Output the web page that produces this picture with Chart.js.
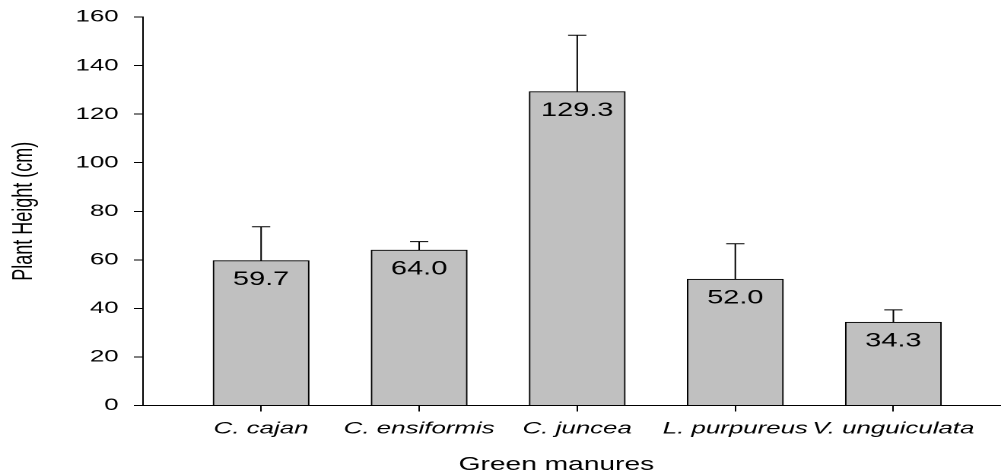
<!DOCTYPE html>
<html>
<head>
<meta charset="utf-8">
<script src="https://cdn.jsdelivr.net/npm/chart.js@4"></script>
<style>
  html, body { margin: 0; padding: 0; background: #fff; overflow: hidden; }
  /* the original figure is stretched sideways, so draw narrow and scale it */
  #wrap { width: 658px; height: 473px; transform: scaleX(1.5213); transform-origin: 0 0; }
  #plantChart { width: 658px; height: 473px; }
</style>
</head>
<body>
<div id="wrap"><canvas id="plantChart" width="658" height="473"></canvas></div>
<script>
// data
const categories = ["C. cajan", "C. ensiformis", "C. juncea", "L. purpureus", "V. unguiculata"];
const heights = [59.7, 64.0, 129.3, 52.0, 34.3];
const errors = [13.9, 3.5, 23.2, 14.6, 5.1];
const yMin = 0;
const yMax = 160;
const yStep = 20;

const fontFamily = "'Liberation Sans', Arial, sans-serif";

// error bars (upper half only) + value labels inside the bars
const barExtras = {
    id: "barExtras",
    afterDatasetsDraw(chart) {
        const ctx = chart.ctx;
        const xScale = chart.scales.x;
        const yScale = chart.scales.y;
        ctx.save();
        ctx.strokeStyle = "#000";
        ctx.lineWidth = 1;
        heights.forEach((h, i) => {
            const x = xScale.getPixelForValue(i);
            const yTop = yScale.getPixelForValue(h);
            const yErr = yScale.getPixelForValue(h + errors[i]);
            ctx.beginPath();
            ctx.moveTo(x, yTop);
            ctx.lineTo(x, yErr);
            ctx.moveTo(x - 6, yErr);
            ctx.lineTo(x + 6, yErr);
            ctx.stroke();

            ctx.fillStyle = "#000";
            ctx.font = "19px " + fontFamily;
            ctx.textAlign = "center";
            ctx.textBaseline = "middle";
            ctx.fillText(h.toFixed(1), x, yTop + 19);
        });
        ctx.restore();
    }
};

const ctx = document.getElementById("plantChart").getContext("2d");
const plantChart = new Chart(ctx, {
    type: "bar",
    data: {
        datasets: [{
            label: "Plant Height",
            data: heights.map((h, i) => ({ x: i, y: h })),
            backgroundColor: "#c0c0c0",
            borderColor: "#000",
            borderWidth: 1,
            borderSkipped: "start",
            barThickness: 63
        }]
    },
    options: {
        responsive: false,
        animation: false,
        devicePixelRatio: 2,
        layout: {
            padding: { left: 0, right: 0, top: 17, bottom: 0 }
        },
        plugins: {
            legend: { display: false },
            tooltip: { enabled: false }
        },
        scales: {
            x: {
                type: "linear",
                offset: false,
                min: -0.747,
                max: 4.681,
                afterBuildTicks: (scale) => {
                    scale.ticks = categories.map((c, i) => ({ value: i }));
                },
                afterFit: (scale) => { scale.height = 67.5; },
                ticks: {
                    stepSize: 1,
                    includeBounds: false,
                    autoSkip: false,
                    maxRotation: 0,
                    color: "#000",
                    padding: 7,
                    font: { family: fontFamily, size: 17, style: "italic" },
                    callback: (v) => categories[v] ?? ""
                },
                grid: {
                    offset: false,
                    drawOnChartArea: false,
                    drawTicks: true,
                    tickLength: 6,
                    color: "#000"
                },
                border: { display: true, color: "#000", width: 1 },
                title: {
                    display: true,
                    text: "Green manures    ",
                    color: "#000",
                    padding: { top: 0, bottom: 0 },
                    font: { family: fontFamily, size: 18.5, lineHeight: 0.85 }
                }
            },
            y: {
                min: yMin,
                max: yMax,
                afterFit: (scale) => { scale.width = 94; },
                ticks: {
                    stepSize: yStep,
                    color: "#000",
                    padding: 10,
                    font: { family: fontFamily, size: 17, lineHeight: 0.8 }
                },
                grid: {
                    drawOnChartArea: false,
                    drawTicks: true,
                    tickLength: 6,
                    color: "#000"
                },
                border: { display: true, color: "#000", width: 1 },
                title: {
                    display: true,
                    text: "Plant Height (cm)",
                    color: "#000",
                    padding: { top: 5, bottom: 0 },
                    font: { family: fontFamily, size: 18 }
                }
            }
        }
    },
    plugins: [barExtras]
});
</script>
</body>
</html>
